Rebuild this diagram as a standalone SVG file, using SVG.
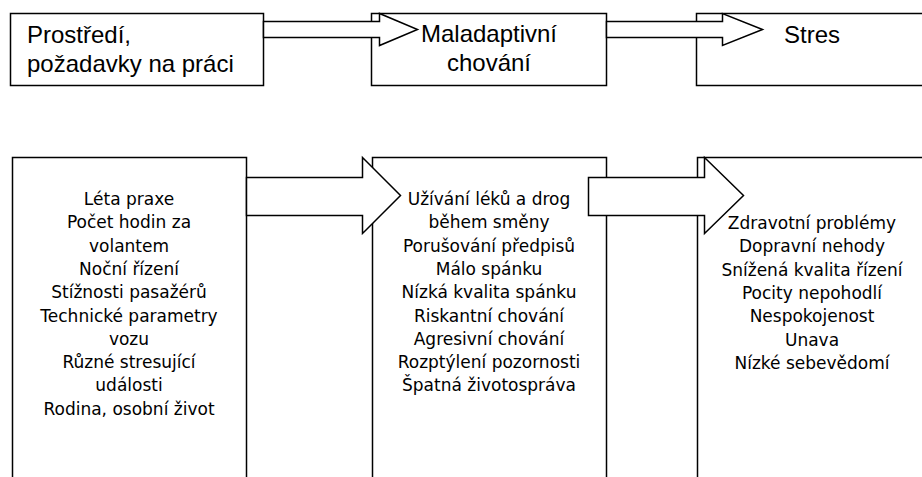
<svg xmlns="http://www.w3.org/2000/svg" width="922" height="477" viewBox="0 0 922 477">
<style>
.box{fill:#fff;stroke:#000;stroke-width:1.5}
.arr{fill:#fff;stroke:#000;stroke-width:1.5;stroke-linejoin:miter}
.t1{font-family:"Liberation Sans",Arial,sans-serif;font-size:24px;fill:#000}
.t2{font-family:"DejaVu Sans",Verdana,sans-serif;font-size:17px;fill:#000;text-anchor:middle}
</style>
<rect width="922" height="477" fill="#fff"/>
<g id="node-prostredi">
<rect class="box" x="10.5" y="13.5" width="253" height="72"/>
<text class="t1" x="27" y="43">Prostředí,</text>
<text class="t1" x="27" y="72">požadavky na práci</text>
</g>
<g id="node-maladaptivni">
<rect class="box" x="371.5" y="13.5" width="235" height="72"/>
<text class="t1" x="489" y="42" text-anchor="middle">Maladaptivní</text>
<text class="t1" x="489" y="71" text-anchor="middle">chování</text>
</g>
<g id="node-stres">
<rect class="box" x="696.5" y="13.5" width="240" height="72"/>
<text class="t1" x="812" y="43" text-anchor="middle">Stres</text>
</g>
<g id="node-faktory">
<rect class="box" x="12.5" y="157.5" width="234" height="340"/>
<text class="t2" x="129" y="205">Léta praxe</text>
<text class="t2" x="129" y="228.3">Počet hodin za</text>
<text class="t2" x="129" y="251.6">volantem</text>
<text class="t2" x="129" y="274.9">Noční řízení</text>
<text class="t2" x="129" y="298.2">Stížnosti pasažérů</text>
<text class="t2" x="129" y="321.5">Technické parametry</text>
<text class="t2" x="129" y="344.8">vozu</text>
<text class="t2" x="129" y="368.1">Různé stresující</text>
<text class="t2" x="129" y="391.4">události</text>
<text class="t2" x="129" y="414.7">Rodina, osobní život</text>
</g>
<g id="node-chovani">
<rect class="box" x="372.5" y="157.5" width="234" height="340"/>
<text class="t2" x="489" y="205">Užívání léků a drog</text>
<text class="t2" x="489" y="228.3">během směny</text>
<text class="t2" x="489" y="251.6">Porušování předpisů</text>
<text class="t2" x="489" y="274.9">Málo spánku</text>
<text class="t2" x="489" y="298.2">Nízká kvalita spánku</text>
<text class="t2" x="489" y="321.5">Riskantní chování</text>
<text class="t2" x="489" y="344.8">Agresivní chování</text>
<text class="t2" x="489" y="368.1">Rozptýlení pozornosti</text>
<text class="t2" x="489" y="391.4">Špatná životospráva</text>
</g>
<g id="node-dusledky">
<rect class="box" x="697.5" y="157.5" width="240" height="340"/>
<text class="t2" x="812" y="229">Zdravotní problémy</text>
<text class="t2" x="812" y="252.3">Dopravní nehody</text>
<text class="t2" x="812" y="275.6">Snížená kvalita řízení</text>
<text class="t2" x="812" y="298.9">Pocity nepohodlí</text>
<text class="t2" x="812" y="322.2">Nespokojenost</text>
<text class="t2" x="812" y="345.5">Unava</text>
<text class="t2" x="812" y="368.8">Nízké sebevědomí</text>
</g>
<g id="connectors">
<polygon class="arr" points="263.5,21.5 379.5,21.5 379.5,13.5 417.5,29.5 379.5,45.5 379.5,37.5 263.5,37.5"/>
<polygon class="arr" points="606.5,21.5 722.5,21.5 722.5,13.5 762.5,29.5 722.5,45.5 722.5,37.5 606.5,37.5"/>
<polygon class="arr" points="246.5,177.5 362.5,177.5 362.5,157.5 400.5,195.5 362.5,233.5 362.5,215.5 246.5,215.5"/>
<polygon class="arr" points="588.5,177.5 704.5,177.5 704.5,157.5 743.5,195.5 704.5,233.5 704.5,215.5 588.5,215.5"/>
</g>
</svg>
